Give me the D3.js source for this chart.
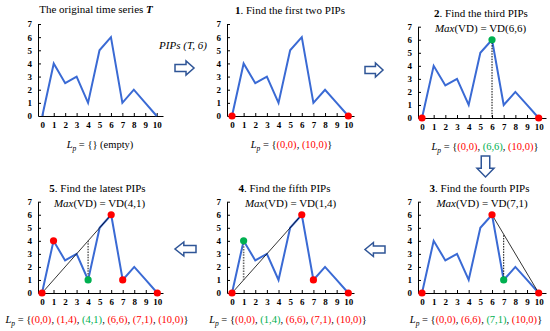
<!DOCTYPE html>
<html>
<head>
<meta charset="utf-8">
<script src="https://cdn.jsdelivr.net/npm/d3@7"></script>
<style>
  body { margin: 0; background: #fff; }
  svg text { font-family: "Liberation Serif", "Times New Roman", serif; }
</style>
</head>
<body>
<div id="chart"></div>
<script>
// time series T
var xValues = [0, 1, 2, 3, 4, 5, 6, 7, 8, 9, 10];
var tValues = [0, 4, 2.5, 3, 1, 5, 6, 1, 2, 1, 0];
var yTicks = [0, 1, 2, 3, 4, 5, 6, 7];

// step titles / VD captions
var stepNums = ["", "1", "2", "3", "4", "5"];
var stepTitles = ["The original time series ", ". Find the first two PIPs", ". Find the third PIPs",
    ". Find the fourth PIPs", ". Find the fifth PIPs", ". Find the latest PIPs"];
var maxVD = [null, null, "6,6", "7,1", "1,4", "4,1"];

// PIP lists per step ([x, y]), and the new one found (green)
var pipLists = [
    [],
    [[0, 0], [10, 0]],
    [[0, 0], [6, 6], [10, 0]],
    [[0, 0], [6, 6], [7, 1], [10, 0]],
    [[0, 0], [1, 4], [6, 6], [7, 1], [10, 0]],
    [[0, 0], [1, 4], [4, 1], [6, 6], [7, 1], [10, 0]]
];
var newPip = [null, null, [6, 6], [7, 1], [1, 4], [4, 1]];
// chord used for the vertical distance (between adjacent PIPs)
var chords = [null, null, [[0, 0], [10, 0]], [[6, 6], [10, 0]], [[0, 0], [6, 6]], [[0, 0], [6, 6]]];

// panel layout
var panels = [
    { ax: 38, x0: 42.3, x10: 156.7, xe: 163, y0: 116, y7: 24, tx: 96, ty: 13, lx: 100, ly: 148 },
    { ax: 227, x0: 232, x10: 348.3, xe: 354, y0: 116, y7: 24, tx: 290, ty: 14, lx: 291.5, ly: 148 },
    { ax: 418, x0: 422, x10: 538.7, xe: 546, y0: 118, y7: 26.7, tx: 481, ty: 17, mx: 480.5, my: 32, lx: 485, ly: 149.5 },
    { ax: 418, x0: 422, x10: 538.7, xe: 546, y0: 293, y7: 201.7, tx: 479.5, ty: 191.5, mx: 482, my: 207, lx: 476, ly: 323 },
    { ax: 227, x0: 232, x10: 348.3, xe: 354, y0: 293, y7: 201.7, tx: 284.5, ty: 191.5, mx: 290.5, my: 207, lx: 288, ly: 323 },
    { ax: 38, x0: 42, x10: 157.3, xe: 163, y0: 293, y7: 201.7, tx: 97.5, ty: 191.5, mx: 99.5, my: 207, lx: 97, ly: 323 }
];

var lineColour = "#3a6ad4";
var red = "#ff0000";
var green = "#00b050";
var arrowColour = "#2f5597";
var serif = "'Liberation Serif', 'Times New Roman', serif";

var width = 550, height = 331;

var svg = d3.select("#chart")
    .append("svg")
    .attr("width", width)
    .attr("height", height);

panels.forEach(function (p, i) {
    var unit = (p.x10 - p.x0) / 10;
    var x = d3.scaleLinear()
        .domain([(p.ax - p.x0) / unit, (p.xe - p.x0) / unit])
        .range([p.ax, p.xe]);
    var y = d3.scaleLinear().domain([0, 7]).range([p.y0, p.y7]);

    var g = svg.append("g");

    var xAxis = g.append("g")
        .attr("transform", "translate(0," + p.y0 + ")")
        .call(d3.axisBottom(x).tickValues(xValues).tickFormat(d3.format("d"))
            .tickSizeInner(-3).tickSizeOuter(0).tickPadding(6));
    var yAxis = g.append("g")
        .attr("transform", "translate(" + p.ax + ",0)")
        .call(d3.axisLeft(y).tickValues(yTicks).tickFormat(d3.format("d"))
            .tickSizeInner(-3).tickSizeOuter(0).tickPadding(6));

    [xAxis, yAxis].forEach(function (a) {
        a.attr("font-family", serif);
        a.select(".domain").attr("stroke", "#000").attr("stroke-width", 1);
        a.selectAll(".tick line").attr("stroke", "#000");
        a.selectAll("text")
            .style("font-family", serif)
            .style("font-size", "9px")
            .style("font-weight", "bold")
            .attr("fill", "#000");
    });
    yAxis.selectAll(".tick").filter(function (d) { return d == 0; }).select("line").remove();

    // series
    var line = d3.line()
        .x(function (d, j) { return x(xValues[j]); })
        .y(function (d) { return y(d); });
    g.append("path")
        .datum(tValues)
        .attr("d", line)
        .attr("fill", "none")
        .attr("stroke", lineColour)
        .attr("stroke-width", 2)
        .attr("stroke-linejoin", "miter");

    // chord + vertical distance
    if (chords[i]) {
        var c = chords[i], n = newPip[i];
        if (i > 2) {
            g.append("line")
                .attr("x1", x(c[0][0])).attr("y1", y(c[0][1]))
                .attr("x2", x(c[1][0])).attr("y2", y(c[1][1]))
                .attr("stroke", "#000").attr("stroke-width", 0.8);
        }
        var t = (n[0] - c[0][0]) / (c[1][0] - c[0][0]);
        var cy = c[0][1] + t * (c[1][1] - c[0][1]);
        g.append("line")
            .attr("x1", x(n[0])).attr("y1", y(n[1]))
            .attr("x2", x(n[0])).attr("y2", y(cy))
            .attr("stroke", i > 3 ? "#666" : "#000")
            .attr("stroke-width", i > 3 ? 1.6 : 1)
            .attr("stroke-dasharray", "1.5,1.2");
    }

    // PIP points
    g.selectAll("circle.pip")
        .data(pipLists[i])
        .enter()
        .append("circle")
        .attr("class", "pip")
        .attr("cx", function (d) { return x(d[0]); })
        .attr("cy", function (d) { return y(d[1]); })
        .attr("r", 3.6)
        .attr("fill", function (d) {
            var n = newPip[i];
            return (n && n[0] == d[0] && n[1] == d[1]) ? green : red;
        });

    // title
    var title = g.append("text")
        .attr("x", p.tx).attr("y", p.ty)
        .attr("text-anchor", "middle")
        .style("font-family", serif)
        .style("font-size", "11px");
    if (i == 0) {
        title.append("tspan").text(stepTitles[0]);
        title.append("tspan").style("font-weight", "bold").style("font-style", "italic").text("T");
    } else {
        title.append("tspan").style("font-weight", "bold").text(stepNums[i]);
        title.append("tspan").text(stepTitles[i]);
    }

    if (maxVD[i]) {
        var m = g.append("text")
            .attr("x", p.mx).attr("y", p.my)
            .attr("text-anchor", "middle")
            .style("font-family", serif)
            .style("font-size", "11px");
        m.append("tspan").style("font-style", "italic").text("Max");
        m.append("tspan").text("(VD) = VD(" + maxVD[i] + ")");
    }

    // L_p list
    var lp = g.append("text")
        .attr("x", p.lx).attr("y", p.ly)
        .attr("text-anchor", "middle")
        .style("font-family", serif)
        .style("font-size", "10.5px");
    lp.append("tspan").style("font-style", "italic").text("L");
    lp.append("tspan").style("font-style", "italic").style("font-size", "7.5px").attr("dy", 3).text("p");
    lp.append("tspan").attr("dy", -3).text(" = {");
    pipLists[i].forEach(function (d, j) {
        var n = newPip[i];
        var isNew = n && n[0] == d[0] && n[1] == d[1];
        if (j > 0) lp.append("tspan").text(", ");
        lp.append("tspan").attr("fill", isNew ? green : red).text("(" + d[0] + "," + d[1] + ")");
    });
    lp.append("tspan").text(i == 0 ? "} (empty)" : "}");
});

// process label
svg.append("text")
    .attr("x", 183).attr("y", 49)
    .attr("text-anchor", "middle")
    .style("font-family", serif)
    .style("font-size", "11px")
    .style("font-style", "italic")
    .text("PIPs (T, 6)");

// block arrows
var arrows = [
    { x: 175, y: 68, dir: "right", len: 19, hw: 14 },
    { x: 365, y: 70, dir: "right", len: 18, hw: 14 },
    { x: 485.5, y: 156, dir: "down", len: 21, hw: 17 },
    { x: 196, y: 249, dir: "left", len: 21, hw: 14 },
    { x: 385, y: 249.5, dir: "left", len: 20, hw: 14 }
];

function arrowPath(a) {
    var hl = a.len * 0.42, L = a.len, h = a.hw / 2, b = a.hw / 4;
    var pts = [[0, -b], [L - hl, -b], [L - hl, -h], [L, 0], [L - hl, h], [L - hl, b], [0, b]];
    return "M" + pts.map(function (q) {
        var u = q[0], v = q[1];
        if (a.dir == "right") return [a.x + u, a.y + v];
        if (a.dir == "left") return [a.x - u, a.y + v];
        return [a.x + v, a.y + u];
    }).join("L") + "Z";
}

svg.selectAll("path.arrow")
    .data(arrows)
    .enter()
    .append("path")
    .attr("class", "arrow")
    .attr("d", arrowPath)
    .attr("fill", "#fff")
    .attr("stroke", arrowColour)
    .attr("stroke-width", 1.5)
    .attr("stroke-linejoin", "miter");
</script>
</body>
</html>
